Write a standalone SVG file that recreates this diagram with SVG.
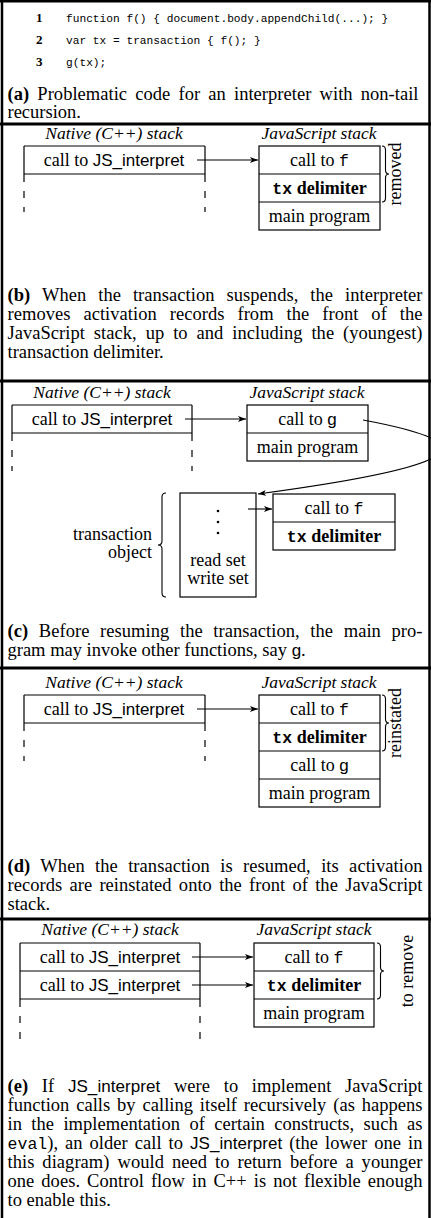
<svg xmlns="http://www.w3.org/2000/svg" width="431" height="1218" viewBox="0 0 431 1218">
<style>
.frame{stroke:#000;stroke-width:2.5;fill:none}
.sep{stroke:#000;stroke-width:3}
.box{fill:none;stroke:#000;stroke-width:1.2}
.dash{fill:none;stroke:#000;stroke-width:1.2;stroke-dasharray:7 9}
.brace{fill:none;stroke:#000;stroke-width:1.1}
.conn{fill:none;stroke:#000;stroke-width:1.1;marker-end:url(#ah)}
text{font-family:"Liberation Serif","Times New Roman",serif;fill:#000}
.cap{font-size:18.5px}
.lbl{font-size:18px;text-anchor:middle}
.hdr{font-size:17.5px;font-style:italic;text-anchor:middle}
.rot{font-size:18px;text-anchor:middle}
.sans{font-family:"Liberation Sans",Arial,sans-serif;font-size:17px}
.mono{font-family:"Liberation Mono","DejaVu Sans Mono",monospace;font-size:16.5px}
.code{font-family:"Liberation Mono","DejaVu Sans Mono",monospace;font-size:11.2px}
.ln{font-size:13px;font-weight:bold}
.b{font-weight:bold}
</style>
<defs>
<marker id="ah" markerUnits="userSpaceOnUse" markerWidth="9" markerHeight="7" refX="8" refY="3" orient="auto">
<path d="M0,0 L8,3 L0,6 L2,3 z" fill="#000"/>
</marker>
</defs>
<rect width="431" height="1218" fill="#fff"/>

<g id="frame">
<path class="frame" d="M2,0 V1218 M429.5,0 V1218 M0,1.2 H431"/>
<path class="sep" d="M0,124 H431 M0,381 H431 M0,668 H431 M0,919 H431"/>
</g>

<!-- Panel (a) -->
<g id="a-code">
<text class="ln" x="36" y="22">1</text>
<text class="code" x="66" y="22">function f() { document.body.appendChild(...); }</text>
<text class="ln" x="36" y="44">2</text>
<text class="code" x="66" y="44">var tx = transaction { f(); }</text>
<text class="ln" x="36" y="66">3</text>
<text class="code" x="66" y="66">g(tx);</text>
</g>
<g id="a-caption">
<text class="cap" x="7.5" y="100" word-spacing="3.5" textLength="411" lengthAdjust="spacing"><tspan class="b">(a)</tspan> Problematic code for an interpreter with non-tail</text>
<text class="cap" x="7.5" y="118">recursion.</text>
</g>

<!-- Panel (b) -->
<g id="b-native">
<text class="hdr" x="114" y="139">Native (C++) stack</text>
<path class="box" d="M24,146 H205 M24,174 H205 M24,146 V182 M205,146 V182"/>
<path class="dash" d="M24,191 V212 M205,191 V212"/>
<text class="lbl" x="114" y="166">call to <tspan class="sans">JS_interpret</tspan></text>
</g>
<g id="b-js">
<text class="hdr" x="319" y="139">JavaScript stack</text>
<rect class="box" x="259" y="146" width="121" height="84"/>
<path class="box" d="M259,174 H380 M259,202 H380"/>
<text class="lbl" x="319.5" y="166">call to <tspan class="mono">f</tspan></text>
<text class="lbl b" x="319.5" y="194"><tspan class="mono">tx</tspan> delimiter</text>
<text class="lbl" x="319.5" y="222">main program</text>
</g>
<g id="b-removed">
<path class="brace" d="M382,146 Q385.5,146 385.5,150 L385.5,170 Q385.5,174 389,174 Q385.5,174 385.5,178 L385.5,198 Q385.5,202 382,202"/>
<text class="rot" transform="translate(401,174) rotate(-90)">removed</text>
</g>
<g id="b-caption">
<text class="cap" x="7.5" y="301" word-spacing="7.3" textLength="415" lengthAdjust="spacing"><tspan class="b">(b)</tspan> When the transaction suspends, the interpreter</text>
<text class="cap" x="7.5" y="320" word-spacing="8.3" textLength="415" lengthAdjust="spacing">removes activation records from the front of the</text>
<text class="cap" x="7.5" y="339" word-spacing="4.3" textLength="415" lengthAdjust="spacing">JavaScript stack, up to and including the (youngest)</text>
<text class="cap" x="7.5" y="358">transaction delimiter.</text>
</g>

<!-- Panel (c) -->
<g id="c-native">
<text class="hdr" x="102" y="398">Native (C++) stack</text>
<path class="box" d="M12,405 H192 M12,433 H192 M12,405 V441 M192,405 V441"/>
<path class="dash" d="M12,450 V471 M192,450 V471"/>
<text class="lbl" x="102" y="425">call to <tspan class="sans">JS_interpret</tspan></text>
</g>
<g id="c-js">
<text class="hdr" x="307" y="398">JavaScript stack</text>
<rect class="box" x="247" y="405" width="121" height="56"/>
<path class="box" d="M247,433 H368"/>
<text class="lbl" x="307.5" y="425">call to <tspan class="sans">g</tspan></text>
<text class="lbl" x="307.5" y="453">main program</text>
</g>
<g id="c-txobj">
<rect class="box" x="180" y="493" width="76" height="104"/>
<circle cx="218" cy="511" r="1.3"/>
<circle cx="218" cy="522" r="1.3"/>
<circle cx="218" cy="533" r="1.3"/>
<text class="lbl" x="218" y="566">read set</text>
<text class="lbl" x="218" y="584">write set</text>
<path class="brace" d="M166,493 Q162,493 162,497 L162,541 Q162,545 158,545 Q162,545 162,549 L162,593 Q162,597 166,597"/>
<text class="lbl" x="152" y="540" style="text-anchor:end">transaction</text>
<text class="lbl" x="152" y="558" style="text-anchor:end">object</text>
</g>
<g id="c-saved">
<rect class="box" x="273" y="494" width="122" height="56"/>
<path class="box" d="M273,522 H395"/>
<text class="lbl" x="334" y="514">call to <tspan class="mono">f</tspan></text>
<text class="lbl b" x="334" y="542"><tspan class="mono">tx</tspan> delimiter</text>
</g>
<g id="c-caption">
<text class="cap" x="7.5" y="637" word-spacing="6" textLength="415" lengthAdjust="spacing"><tspan class="b">(c)</tspan> Before resuming the transaction, the main pro-</text>
<text class="cap" x="7.5" y="656">gram may invoke other functions, say <tspan class="sans">g</tspan>.</text>
</g>

<!-- Panel (d) -->
<g id="d-native">
<text class="hdr" x="114" y="688">Native (C++) stack</text>
<path class="box" d="M24,695 H205 M24,723 H205 M24,695 V731 M205,695 V731"/>
<path class="dash" d="M24,740 V761 M205,740 V761"/>
<text class="lbl" x="114" y="715">call to <tspan class="sans">JS_interpret</tspan></text>
</g>
<g id="d-js">
<text class="hdr" x="319" y="688">JavaScript stack</text>
<rect class="box" x="259" y="695" width="121" height="112"/>
<path class="box" d="M259,723 H380 M259,751 H380 M259,779 H380"/>
<text class="lbl" x="319.5" y="715">call to <tspan class="mono">f</tspan></text>
<text class="lbl b" x="319.5" y="743"><tspan class="mono">tx</tspan> delimiter</text>
<text class="lbl" x="319.5" y="771">call to <tspan class="sans">g</tspan></text>
<text class="lbl" x="319.5" y="799">main program</text>
</g>
<g id="d-reinstated">
<path class="brace" d="M382,695 Q385.5,695 385.5,699 L385.5,719 Q385.5,723 389,723 Q385.5,723 385.5,727 L385.5,747 Q385.5,751 382,751"/>
<text class="rot" transform="translate(401,723) rotate(-90)">reinstated</text>
</g>
<g id="d-caption">
<text class="cap" x="7.5" y="872" word-spacing="5.7" textLength="415" lengthAdjust="spacing"><tspan class="b">(d)</tspan> When the transaction is resumed, its activation</text>
<text class="cap" x="7.5" y="891" word-spacing="2.6" textLength="415" lengthAdjust="spacing">records are reinstated onto the front of the JavaScript</text>
<text class="cap" x="7.5" y="910">stack.</text>
</g>

<!-- Panel (e) -->
<g id="e-native">
<text class="hdr" x="110" y="935">Native (C++) stack</text>
<path class="box" d="M20,943 H200 M20,971 H200 M20,999 H200 M20,943 V1007 M200,943 V1007"/>
<path class="dash" d="M20,1016 V1043 M200,1016 V1043"/>
<text class="lbl" x="110" y="963">call to <tspan class="sans">JS_interpret</tspan></text>
<text class="lbl" x="110" y="991">call to <tspan class="sans">JS_interpret</tspan></text>
</g>
<g id="e-js">
<text class="hdr" x="314" y="935">JavaScript stack</text>
<rect class="box" x="254" y="943" width="120" height="84"/>
<path class="box" d="M254,971 H374 M254,999 H374"/>
<text class="lbl" x="314" y="963">call to <tspan class="mono">f</tspan></text>
<text class="lbl b" x="314" y="991"><tspan class="mono">tx</tspan> delimiter</text>
<text class="lbl" x="314" y="1019">main program</text>
</g>
<g id="e-toremove">
<path class="brace" d="M377,943 Q380.5,943 380.5,947 L380.5,967 Q380.5,971 384,971 Q380.5,971 380.5,975 L380.5,995 Q380.5,999 377,999"/>
<text class="rot" transform="translate(413,971) rotate(-90)">to remove</text>
</g>
<g id="e-caption">
<text class="cap" x="7.5" y="1092" word-spacing="9" textLength="415" lengthAdjust="spacing"><tspan class="b">(e)</tspan> If <tspan class="sans">JS_interpret</tspan> were to implement JavaScript</text>
<text class="cap" x="7.5" y="1111" word-spacing="2.2" textLength="415" lengthAdjust="spacing">function calls by calling itself recursively (as happens</text>
<text class="cap" x="7.5" y="1130" word-spacing="4.7" textLength="415" lengthAdjust="spacing">in the implementation of certain constructs, such as</text>
<text class="cap" x="7.5" y="1149" word-spacing="2.3" textLength="415" lengthAdjust="spacing"><tspan class="mono">eval</tspan>), an older call to <tspan class="sans">JS_interpret</tspan> (the lower one in</text>
<text class="cap" x="7.5" y="1168" word-spacing="3.3" textLength="415" lengthAdjust="spacing">this diagram) would need to return before a younger</text>
<text class="cap" x="7.5" y="1187" word-spacing="2.3" textLength="415" lengthAdjust="spacing">one does. Control flow in C++ is not flexible enough</text>
<text class="cap" x="7.5" y="1206">to enable this.</text>
</g>

<g id="connectors">
<path class="conn" d="M197,160 H258"/>
<path class="conn" d="M185,419 H246"/>
<path class="conn" d="M363,420 C475,441 490,463 258,494"/>
<path class="conn" d="M248,509 H272"/>
<path class="conn" d="M197,709 H258"/>
<path class="conn" d="M192,957 H253"/>
<path class="conn" d="M192,985 H253"/>
</g>
</svg>
